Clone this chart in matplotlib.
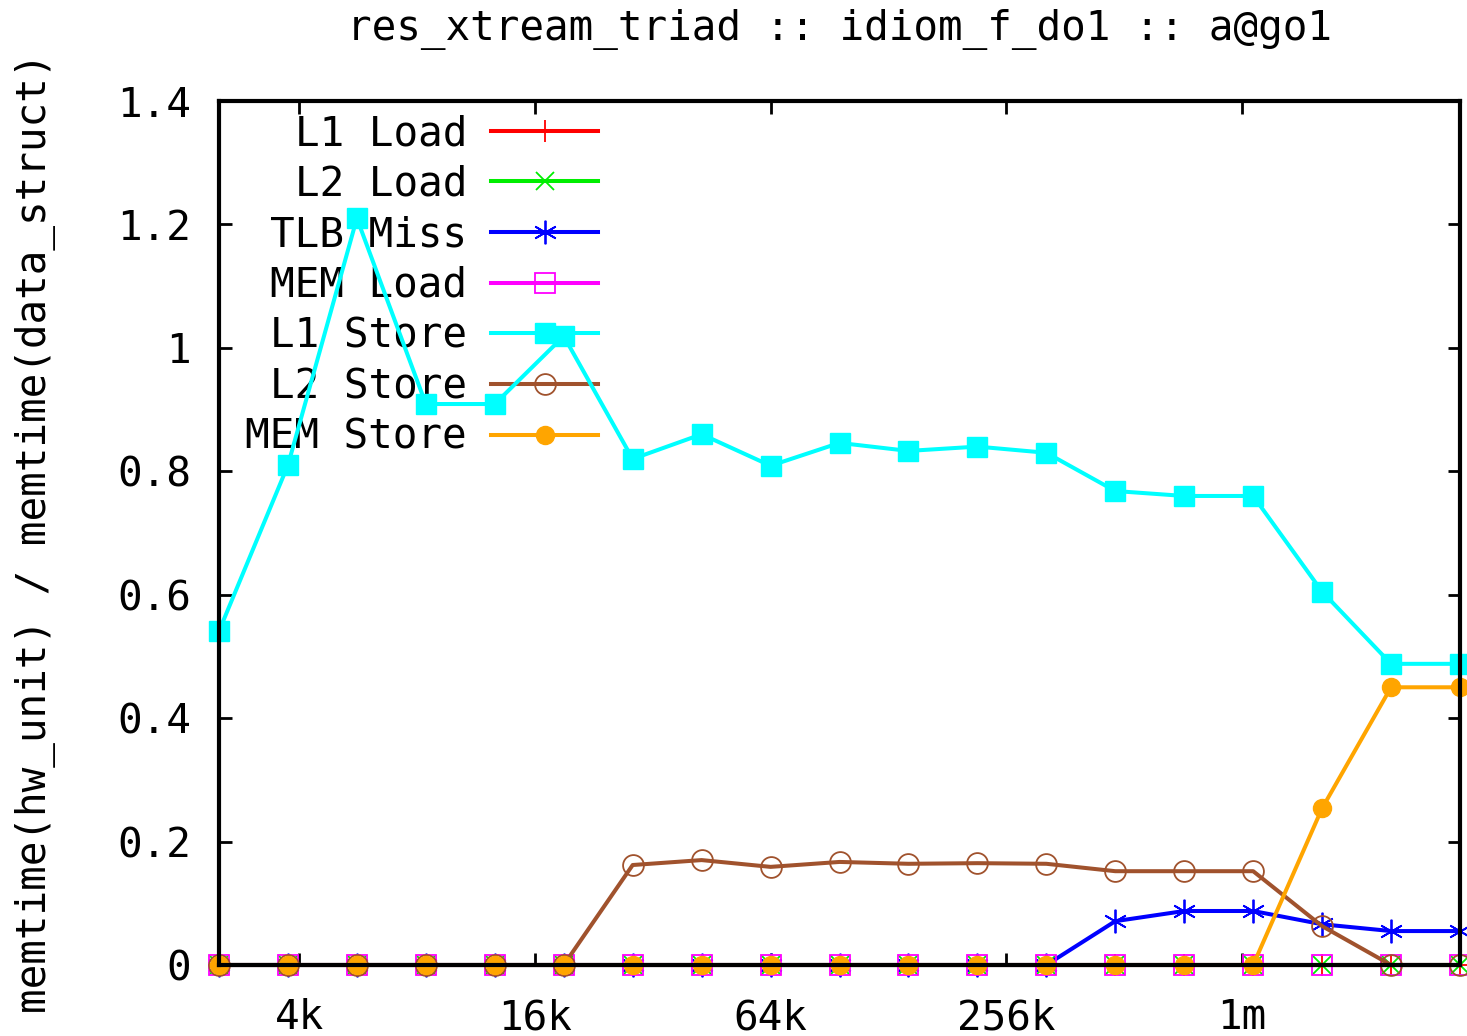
import matplotlib
matplotlib.use("Agg")
import matplotlib.pyplot as plt
from matplotlib.ticker import FixedLocator, NullLocator

# ---- data ----
sizes = [2557, 3836, 5753, 8630, 12945, 19418, 29127, 43691, 65536, 98304,
         147456, 221184, 331776, 497664, 746496, 1119744, 1679616, 2519424, 3779136]

l1_load = [0.0] * 19
l2_load = [0.0] * 19
tlb_miss = [0, 0, 0, 0, 0, 0, 0, 0, 0, 0, 0, 0, 0, 0.071, 0.0875, 0.0875, 0.066, 0.055, 0.055]
mem_load = [0.0] * 19
l1_store = [0.541, 0.81, 1.21, 0.909, 0.909, 1.019, 0.82, 0.86, 0.809, 0.846,
            0.833, 0.84, 0.83, 0.768, 0.76, 0.76, 0.605, 0.488, 0.488]
l2_store = [0, 0, 0, 0, 0, 0, 0.162, 0.17, 0.159, 0.167, 0.164, 0.165, 0.164,
            0.152, 0.152, 0.152, 0.063, 0, 0]
mem_store = [0, 0, 0, 0, 0, 0, 0, 0, 0, 0, 0, 0, 0, 0, 0, 0, 0.254, 0.45, 0.45]

series_names = ["L1 Load", "L2 Load", "TLB Miss", "MEM Load", "L1 Store", "L2 Store", "MEM Store"]
xtick_vals = [4096, 16384, 65536, 262144, 1048576]
xtick_labels = ["4k", "16k", "64k", "256k", "1m"]
ytick_vals = [0, 0.2, 0.4, 0.6, 0.8, 1.0, 1.2, 1.4]
ytick_labels = ["0", "0.2", "0.4", "0.6", "0.8", "1", "1.2", "1.4"]

title = "res_xtream_triad :: idiom_f_do1 :: a@go1"
ylabel = "memtime(hw_unit) / memtime(data_struct)"

# ---- plot ----
plt.rcParams['font.family'] = ['DejaVu Sans Mono']
FS = 29.5

fig = plt.figure(figsize=(14.67, 10.36), dpi=100)
ax = fig.add_axes([219 / 1467, 1 - 965 / 1036, (1460 - 219) / 1467, (965 - 101) / 1036])

LW = 2.9
styles = [
    dict(color="#ff0000", marker="+", ms=16, mew=1.3, mfc="none"),
    dict(color="#00ee00", marker="x", ms=13, mew=1.3, mfc="none"),
    dict(color="#0000ff", marker=(6, 2, 0), ms=17, mew=1.3, mfc="none"),
    dict(color="#ff00ff", marker="s", ms=14, mew=1.3, mfc="none"),
    dict(color="#00ffff", marker="s", ms=14, mew=1.0),
    dict(color="#a0522d", marker="o", ms=15, mew=1.3, mfc="none"),
    dict(color="#ffa500", marker="o", ms=13, mew=1.0),
]
all_series = [l1_load, l2_load, tlb_miss, mem_load, l1_store, l2_store, mem_store]

for name, vals, st in zip(series_names, all_series, styles):
    ax.plot(sizes, vals, label=name, lw=LW, clip_on=False, **st)

ax.set_xscale("log", base=2)
ax.set_xlim(sizes[0], sizes[-1])
ax.set_ylim(0, 1.4)
ax.xaxis.set_major_locator(FixedLocator(xtick_vals))
ax.xaxis.set_minor_locator(NullLocator())
ax.set_xticks(xtick_vals)
ax.set_xticklabels(xtick_labels)
ax.set_yticks(ytick_vals)
ax.set_yticklabels(ytick_labels)
ax.tick_params(axis="both", which="major", direction="in", length=9, width=2,
               top=True, right=True, labelsize=FS)
ax.tick_params(axis="x", pad=24)
ax.tick_params(axis="y", pad=20)
for sp in ax.spines.values():
    sp.set_linewidth(3.0)
    sp.set_zorder(10)

ax.set_title(title, fontsize=FS, pad=44)
ax.set_ylabel(ylabel, fontsize=FS, labelpad=44)

leg = ax.legend(loc="upper right", bbox_to_anchor=((598 - 219) / 1241, (965 - 114) / 864),
                frameon=False, markerfirst=False, fontsize=FS, handlelength=2.6,
                handletextpad=0.6, labelspacing=0.26, borderpad=0, borderaxespad=0)
leg.set_zorder(0)

fig.savefig("out.png", dpi=100)
